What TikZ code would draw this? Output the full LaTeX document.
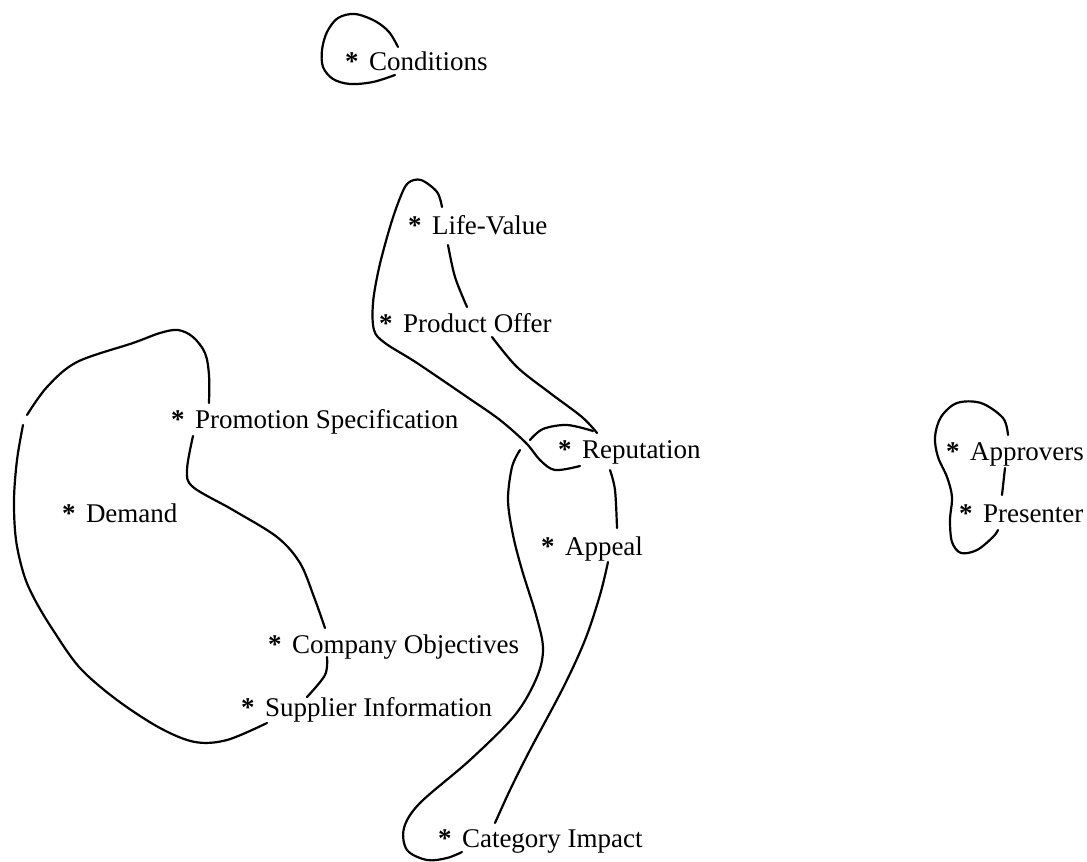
\documentclass[tikz,border=0pt]{standalone}
\usepackage{fontspec}
\setmainfont{Liberation Serif}
\newcommand\starlabel[1]{\makebox[0pt][r]{{\bfseries *}\hspace{10.5pt}}#1}
\begin{document}
\begin{tikzpicture}[x=1pt,y=-1pt,
  term/.style={anchor=base west,inner sep=0pt,outer sep=0pt,
    font=\fontsize{27}{32}\selectfont},
  stroke/.style={line width=2.2pt,line cap=round,line join=round},
  hand/.style={stroke,smooth,tension=0.55}]
\useasboundingbox (0,0) rectangle (1087,862);

% cluster members
\node[term] (cond) at (369,70)  {\starlabel{Conditions}};
\node[term] (life) at (432,234) {\starlabel{Life-Value}};
\node[term] (prod) at (403,332) {\starlabel{Product Offer}};
\node[term] (prom) at (195,428) {\starlabel{Promotion Specification}};
\node[term] (repu) at (582,458) {\starlabel{Reputation}};
\node[term] (dema) at (86,522)  {\starlabel{Demand}};
\node[term] (appe) at (565,555) {\starlabel{Appeal}};
\node[term] (comp) at (292,653) {\starlabel{Company Objectives}};
\node[term] (supp) at (265,716) {\starlabel{Supplier Information}};
\node[term] (cate) at (462,847) {\starlabel{Category Impact}};
\node[term] (appr) at (970,460) {\starlabel{Approvers}};
\node[term] (pres) at (983,522) {\starlabel{Presenter}};

% loop round Conditions
\draw[hand] plot coordinates {(398,47) (389,32) (375,21) (355,14) (338,18)
  (327,32) (322,50) (323,67) (333,79) (350,84) (373,82) (395,75)};

% Life-Value / Product Offer / Reputation
\draw[hand] plot coordinates {(442,207) (437,192) (421,180) (408,183) (400,198)
  (390,227) (379,268) (373,303) (374,330) (385,343) (417,363) (467,397)
  (500,420) (526,443) (540,460) (555,470) (580,466)};
\draw[hand] plot coordinates {(448,245) (455,277) (467,307)};
\draw[hand] plot coordinates {(492,337) (517,367) (550,393) (582,417) (597,433)};
\draw[hand] plot coordinates {(530,440) (543,429) (567,425) (593,431)};

% Appeal / Category Impact
\draw[hand] plot coordinates {(520,450) (512,467) (508,500) (513,535) (522,570)
  (536,615) (543,648) (537,677) (515,715) (470,760) (420,803) (404,828)
  (407,850) (427,860) (447,858) (462,852)};
\draw[hand] plot coordinates {(610,470) (615,490) (617,528)};
\draw[hand] plot coordinates {(608,562) (600,595) (585,640) (563,688)
  (530,750) (510,790) (495,823)};

% Demand cluster
\draw[hand] plot coordinates {(27,415) (47,387) (77,362) (133,343) (160,333)
  (178,330) (193,337) (205,353) (209,375) (209,403)};
\draw[hand] plot coordinates {(23,425) (17,460) (14,500) (16,540) (24,575)
  (35,600) (53,630) (80,668) (117,700) (160,728) (195,742) (227,740) (267,723)};
\draw[hand] plot coordinates {(193,436) (187,470) (193,487) (233,510)
  (277,537) (300,563) (314,597) (325,628)};
\draw[hand] plot coordinates {(327,657) (325,675) (307,697)};

% Approvers / Presenter
\draw[hand] plot coordinates {(1008,435) (1003,418) (981,403) (957,403)
  (941,417) (935,437) (938,457) (947,477) (952,497) (950,520) (952,542)
  (961,553) (977,550) (993,537) (998,530)};
\draw[hand] plot coordinates {(1005,468) (1002,495)};
\end{tikzpicture}
\end{document}
